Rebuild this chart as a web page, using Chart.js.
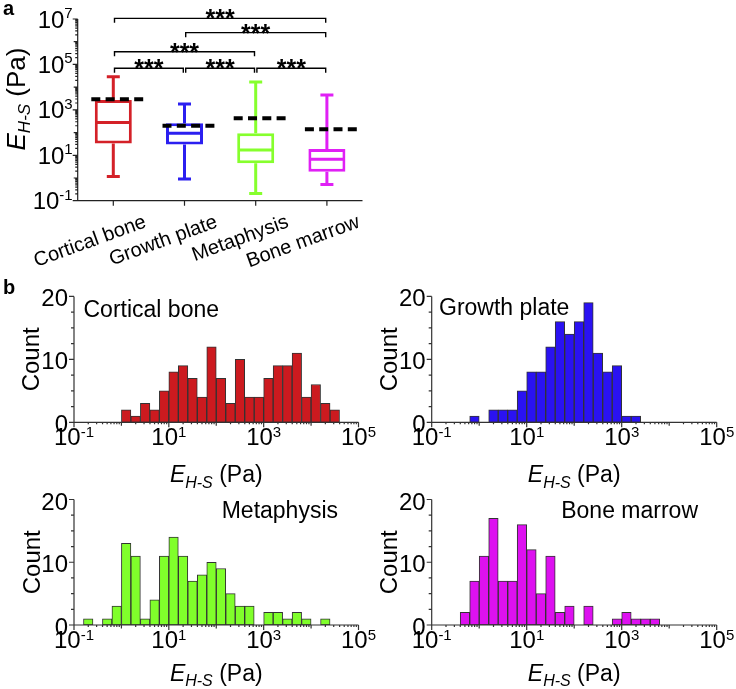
<!DOCTYPE html>
<html>
<head>
<meta charset="utf-8">
<script src="https://cdn.jsdelivr.net/npm/chart.js@4.4.1/dist/chart.umd.min.js"></script>
<style>
    html, body { margin: 0; padding: 0; background: #fff; }
    #wrap { position: relative; width: 736px; height: 689px; overflow: hidden; }
    #wrap canvas { position: absolute; left: 0; top: 0; }
</style>
</head>
<body>
<div id="wrap">
    <canvas id="boxChart" width="736" height="689"></canvas>
    <canvas id="histCortical" width="736" height="689"></canvas>
    <canvas id="histGrowth" width="736" height="689"></canvas>
    <canvas id="histMeta" width="736" height="689"></canvas>
    <canvas id="histMarrow" width="736" height="689"></canvas>
</div>
<script>
// ---- panel a: box plot (values in Pa) ----
const tissues = ['Cortical bone', 'Growth plate', 'Metaphysis', 'Bone marrow'];
const boxColors = ['#d42128', '#2b1ff0', '#86ff2d', '#e020f5'];
const whiskerMin = [1.15, 0.9, 0.21, 0.52];
const quartile1 = [33, 30, 4.5, 1.9];
const medians = [280, 93, 17, 6.6];
const quartile3 = [2700, 260, 93, 19];
const whiskerMax = [29000, 1800, 17000, 4500];
const means = [2900, 200, 430, 140];
const boxExponents = [-1, 1, 3, 5, 7];

// significance brackets
const sigFrom = [0, 1, 0, 0, 1, 2];
const sigTo = [3, 3, 2, 1, 2, 3];
const sigLevel = [1.07e7, 2.5e6, 3.6e5, 6.8e4, 6.8e4, 6.8e4];
const sigText = '***';

// ---- panel b: histograms, bins in log10(Pa), width 0.2 ----
const binStarts = [-1.0, -0.8, -0.6, -0.4, -0.2, 0.0, 0.2, 0.4, 0.6, 0.8,
                   1.0, 1.2, 1.4, 1.6, 1.8, 2.0, 2.2, 2.4, 2.6, 2.8,
                   3.0, 3.2, 3.4, 3.6, 3.8, 4.0, 4.2, 4.4, 4.6, 4.8];
const countCortical = [0, 0, 0, 0, 0, 2, 1, 3, 2, 5, 8, 9, 7, 4, 12, 7, 3, 10, 4, 4, 7, 9, 9, 11, 4, 6, 3, 2, 0, 0];
const countGrowth   = [0, 0, 0, 0, 1, 0, 2, 2, 2, 5, 8, 8, 12, 16, 14, 16, 19, 11, 8, 9, 1, 1, 0, 0, 0, 0, 0, 0, 0, 0];
const countMeta     = [0, 1, 0, 1, 3, 13, 11, 1, 4, 11, 14, 11, 7, 8, 10, 9, 5, 3, 3, 0, 2, 2, 1, 2, 1, 0, 1, 0, 0, 0];
const countMarrow   = [0, 0, 0, 2, 7, 11, 17, 7, 7, 16, 12, 5, 11, 2, 3, 0, 3, 0, 0, 1, 2, 1, 1, 1, 0, 0, 0, 0, 0, 0];
const histColors = ['#cc1a1f', '#2a12f2', '#80ff2b', '#dd11f0'];
const histXExponents = [-1, 1, 3, 5];
const histYTicks = [0, 10, 20];

const FONT = '"Liberation Sans", Arial, Helvetica, sans-serif';

function setFont(ctx, size, style) {
    ctx.font = (style ? style + ' ' : '') + size + 'px ' + FONT;
}

// "10" with a raised exponent
function drawPow(ctx, x, y, exp, size, supSize, raise, align) {
    setFont(ctx, size);
    const w1 = ctx.measureText('10').width;
    setFont(ctx, supSize);
    const w2 = ctx.measureText(exp).width;
    let x0 = x;
    if (align === 'center') x0 = x - (w1 + w2) / 2;
    if (align === 'right') x0 = x - (w1 + w2);
    ctx.textAlign = 'left';
    ctx.textBaseline = 'alphabetic';
    setFont(ctx, size);
    ctx.fillText('10', x0, y);
    setFont(ctx, supSize);
    ctx.fillText(exp, x0 + w1, y - raise);
}

// E_{H-S} (Pa)
function drawEhs(ctx, cx, cy, size, subSize, drop, angle) {
    ctx.save();
    ctx.translate(cx, cy);
    ctx.rotate(angle);
    ctx.fillStyle = '#000';
    ctx.textAlign = 'left';
    ctx.textBaseline = 'alphabetic';
    setFont(ctx, size, 'italic');
    const wE = ctx.measureText('E').width;
    setFont(ctx, subSize, 'italic');
    const wS = ctx.measureText('H-S').width;
    setFont(ctx, size);
    const wP = ctx.measureText(' (Pa)').width;
    let x = -(wE + wS + wP) / 2;
    setFont(ctx, size, 'italic');
    ctx.fillText('E', x, 0);
    x += wE;
    setFont(ctx, subSize, 'italic');
    ctx.fillText('H-S', x, drop);
    x += wS;
    setFont(ctx, size);
    ctx.fillText(' (Pa)', x, 0);
    ctx.restore();
}

const boxPlugin = {
    id: 'boxExtras',
    afterDatasetsDraw(chart) {
        const ctx = chart.ctx, xs = chart.scales.x, ys = chart.scales.y;
        const bars = chart.getDatasetMeta(0).data;
        ctx.save();
        tissues.forEach((t, i) => {
            const x = xs.getPixelForValue(i);
            ctx.strokeStyle = boxColors[i];
            ctx.lineWidth = 3;
            ctx.beginPath();
            ctx.moveTo(x, ys.getPixelForValue(quartile3[i]));
            ctx.lineTo(x, ys.getPixelForValue(whiskerMax[i]));
            ctx.moveTo(x, ys.getPixelForValue(quartile1[i]));
            ctx.lineTo(x, ys.getPixelForValue(whiskerMin[i]));
            [whiskerMax[i], whiskerMin[i]].forEach(v => {
                const y = ys.getPixelForValue(v);
                ctx.moveTo(x - 6.5, y);
                ctx.lineTo(x + 6.5, y);
            });
            const half = bars[i].width / 2 - 1;
            const ym = ys.getPixelForValue(medians[i]);
            ctx.moveTo(x - half, ym);
            ctx.lineTo(x + half, ym);
            ctx.stroke();

            // mean as dashed black line
            ctx.strokeStyle = '#000';
            ctx.lineWidth = 4;
            ctx.setLineDash([9, 5.3]);
            const yMean = ys.getPixelForValue(means[i]);
            ctx.beginPath();
            ctx.moveTo(x - 22, yMean);
            ctx.lineTo(x + 30, yMean);
            ctx.stroke();
            ctx.setLineDash([]);
        });
        ctx.restore();
    },
    afterDraw(chart) {
        const ctx = chart.ctx, xs = chart.scales.x, ys = chart.scales.y, a = chart.chartArea;
        ctx.save();
        ctx.strokeStyle = '#222';
        ctx.lineWidth = 1.2;
        ctx.beginPath();
        ctx.moveTo(a.left, a.top);
        ctx.lineTo(a.left, a.bottom);
        ctx.lineTo(a.right, a.bottom);
        for (let d = -1; d <= 7; d++) {
            const y = ys.getPixelForValue(Math.pow(10, d));
            ctx.moveTo(a.left - (d % 2 !== 0 ? 5 : 4), y);
            ctx.lineTo(a.left, y);
            if (d < 7) {
                for (let k = 2; k < 10; k++) {
                    const ym = ys.getPixelForValue(k * Math.pow(10, d));
                    ctx.moveTo(a.left - 2.5, ym);
                    ctx.lineTo(a.left, ym);
                }
            }
        }
        tissues.forEach((t, i) => {
            const x = xs.getPixelForValue(i);
            ctx.moveTo(x, a.bottom);
            ctx.lineTo(x, a.bottom + 5);
        });
        ctx.stroke();

        // y tick labels
        ctx.fillStyle = '#000';
        boxExponents.forEach(e => {
            const y = ys.getPixelForValue(Math.pow(10, e));
            drawPow(ctx, a.left - 5, y + 8.5, String(e), 24, 15, 9.5, 'right');
        });

        // rotated category labels
        setFont(ctx, 20);
        tissues.forEach((t, i) => {
            const x = xs.getPixelForValue(i);
            ctx.save();
            ctx.translate(x + 34, a.bottom + 26);
            ctx.rotate(-20 * Math.PI / 180);
            ctx.textAlign = 'right';
            ctx.textBaseline = 'alphabetic';
            ctx.fillText(t, 0, 0);
            ctx.restore();
        });

        // significance brackets
        ctx.strokeStyle = '#000';
        ctx.lineWidth = 1.4;
        sigFrom.forEach((f, j) => {
            const x1 = xs.getPixelForValue(f) + 1.2;
            const x2 = xs.getPixelForValue(sigTo[j]) - 1.2;
            const y = ys.getPixelForValue(sigLevel[j]);
            ctx.beginPath();
            ctx.moveTo(x1, y + 4.5);
            ctx.lineTo(x1, y);
            ctx.lineTo(x2, y);
            ctx.lineTo(x2, y + 4.5);
            ctx.stroke();
            setFont(ctx, 25, 'bold');
            ctx.textAlign = 'center';
            ctx.textBaseline = 'alphabetic';
            ctx.fillText(sigText, (x1 + x2) / 2, y + 9);
        });

        // axis title and panel letter
        drawEhs(ctx, 25, 99, 26, 17, 5, -Math.PI / 2);
        setFont(ctx, 20, 'bold');
        ctx.textAlign = 'left';
        ctx.fillText('a', 3, 15);
        ctx.restore();
    }
};

new Chart(document.getElementById('boxChart'), {
    type: 'bar',
    data: {
        labels: tissues,
        datasets: [{
            data: tissues.map((t, i) => [quartile1[i], quartile3[i]]),
            backgroundColor: '#ffffff',
            borderColor: boxColors,
            borderWidth: 3,
            borderSkipped: false,
            categoryPercentage: 1,
            barPercentage: 0.52
        }]
    },
    options: {
        responsive: false,
        animation: false,
        devicePixelRatio: 1,
        events: [],
        layout: { padding: { left: 77.7, top: 19, right: 736 - 362.5, bottom: 689 - 200.7 } },
        plugins: { legend: { display: false }, tooltip: { enabled: false } },
        scales: {
            x: { display: false },
            y: { type: 'logarithmic', display: false, min: 0.1, max: 1e7 }
        }
    },
    plugins: [boxPlugin]
});

function histPlugin(cfg) {
    return {
        id: 'histAxes',
        afterDraw(chart) {
            const ctx = chart.ctx, xs = chart.scales.x, ys = chart.scales.y, a = chart.chartArea;
            ctx.save();
            ctx.strokeStyle = '#333';
            ctx.lineWidth = 1.2;
            ctx.beginPath();
            ctx.moveTo(a.left, a.top);
            ctx.lineTo(a.left, a.bottom);
            ctx.lineTo(a.right, a.bottom);
            for (let v = 0; v <= 20; v += 2.5) {
                const y = ys.getPixelForValue(v);
                const len = v % 10 === 0 ? 5 : 3;
                ctx.moveTo(a.left - len, y);
                ctx.lineTo(a.left, y);
            }
            for (let d = -1; d <= 5; d++) {
                const x = xs.getPixelForValue(d);
                ctx.moveTo(x, a.bottom);
                ctx.lineTo(x, a.bottom + (d % 2 !== 0 ? 5 : 3.5));
                if (d < 5) {
                    for (let k = 2; k < 10; k++) {
                        const xm = xs.getPixelForValue(d + Math.log10(k));
                        ctx.moveTo(xm, a.bottom);
                        ctx.lineTo(xm, a.bottom + 2);
                    }
                }
            }
            ctx.stroke();

            ctx.fillStyle = '#000';
            // y labels
            setFont(ctx, 24);
            ctx.textAlign = 'right';
            ctx.textBaseline = 'alphabetic';
            histYTicks.forEach(v => {
                ctx.fillText(String(v), a.left - 6, ys.getPixelForValue(v) + 10);
            });
            // x labels
            histXExponents.forEach(e => {
                drawPow(ctx, xs.getPixelForValue(e), a.bottom + 23, String(e), 24, 15, 8.5, 'center');
            });
            // Count
            ctx.save();
            ctx.translate(cfg.countX, (a.top + a.bottom) / 2);
            ctx.rotate(-Math.PI / 2);
            setFont(ctx, 24);
            ctx.textAlign = 'center';
            ctx.fillText('Count', 0, 0);
            ctx.restore();
            // tissue name
            setFont(ctx, 23);
            ctx.textAlign = cfg.align;
            ctx.fillText(cfg.title, cfg.titleX, cfg.titleY);
            // x title
            drawEhs(ctx, (a.left + a.right) / 2, cfg.ehsY, 23, 16, 5.5, 0);
            if (cfg.letter) {
                setFont(ctx, 20, 'bold');
                ctx.textAlign = 'left';
                ctx.fillText(cfg.letter, 3, 294);
            }
            ctx.restore();
        }
    };
}

function makeHist(id, counts, color, area, cfg) {
    return new Chart(document.getElementById(id), {
        type: 'bar',
        data: {
            datasets: [{
                data: binStarts.map((b, i) => ({ x: b + 0.1, y: counts[i] })).filter(p => p.y > 0),
                backgroundColor: color,
                borderColor: '#333333',
                borderWidth: 1,
                borderSkipped: false,
                categoryPercentage: 1,
                barPercentage: 1
            }]
        },
        options: {
            responsive: false,
            animation: false,
            devicePixelRatio: 1,
            events: [],
            layout: { padding: { left: area.l, top: area.t, right: 736 - area.r, bottom: 689 - area.b } },
            plugins: { legend: { display: false }, tooltip: { enabled: false } },
            scales: {
                x: { type: 'linear', display: false, offset: false, min: -1, max: 5, ticks: { stepSize: 1 } },
                y: { type: 'linear', display: false, min: 0, max: 20, ticks: { stepSize: 5 } }
            }
        },
        plugins: [histPlugin(cfg)]
    });
}

makeHist('histCortical', countCortical, histColors[0],
    { l: 74, r: 358.5, t: 296.4, b: 422.3 },
    { title: 'Cortical bone', titleX: 83.5, titleY: 317, align: 'left', countX: 39, ehsY: 482, letter: 'b' });
makeHist('histGrowth', countGrowth, histColors[1],
    { l: 431.7, r: 716.7, t: 296.4, b: 422.3 },
    { title: 'Growth plate', titleX: 439, titleY: 315, align: 'left', countX: 397, ehsY: 482 });
makeHist('histMeta', countMeta, histColors[2],
    { l: 74, r: 358.5, t: 499.5, b: 625 },
    { title: 'Metaphysis', titleX: 338, titleY: 518, align: 'right', countX: 39.5, ehsY: 680.5 });
makeHist('histMarrow', countMarrow, histColors[3],
    { l: 431.7, r: 716.7, t: 499.5, b: 625 },
    { title: 'Bone marrow', titleX: 698, titleY: 518, align: 'right', countX: 397, ehsY: 680.5 });
</script>
</body>
</html>
